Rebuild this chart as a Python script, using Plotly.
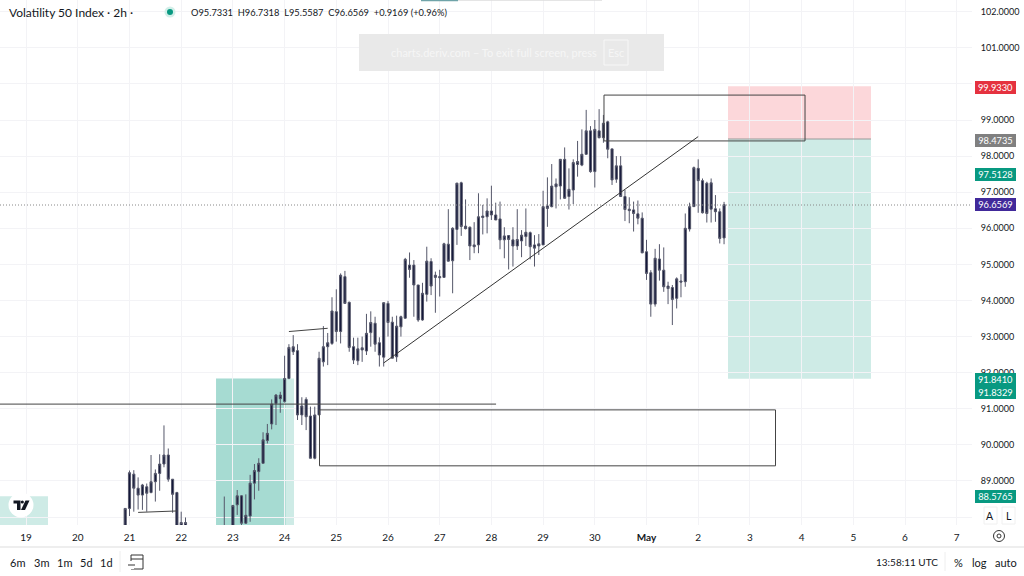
import pandas as pd
import plotly.graph_objects as go

N = None
open_ = [87.3,
 88.24,89.19,88.80,88.61,88.84,88.68,88.98,89.21,89.47,89.72,89.05,88.68,
 87.6,87.76,N,N,N,N,N,N,N,N,87.2,N,
 87.6,88.34,88.59,87.83,88.03,88.94,89.26,89.49,90.12,90.58,91.15,91.28,
 91.20,91.84,92.58,92.61,90.83,91.26,90.80,89.63,90.83,92.30,92.72,92.81,
 93.69,93.14,94.66,93.95,92.72,92.33,92.63,92.60,93.11,93.37,92.83,92.43,
 93.92,93.40,92.44,93.27,93.51,94.98,94.98,94.43,93.46,94.17,95.08,94.70,
 94.63,94.64,95.56,95.10,95.97,97.26,96.06,96.03,95.54,95.54,96.34,96.32,
 96.48,96.37,96.26,95.68,95.80,95.68,95.51,95.65,95.77,95.88,95.54,95.51,
 95.54,96.62,96.60,97.15,97.17,97.91,96.88,97.06,97.77,97.75,98.05,98.70,
 97.57,98.70,98.51,98.95,98.20,97.36,97.73,96.88,96.53,96.51,96.40,96.28,
 95.35,94.77,93.90,95.15,94.84,94.40,94.36,94.06,94.54,94.52,95.98,96.60,
 97.66,97.32,97.25,96.53,96.54,96.46,95.7331]
high = [88.24,
 89.29,89.30,89.10,88.92,88.93,89.72,89.32,89.74,90.54,89.90,89.05,88.70,
 88.15,87.99,N,N,N,N,N,N,N,N,88.57,N,
 88.34,88.75,88.61,88.63,89.17,89.47,89.63,90.35,90.58,91.26,91.41,91.47,
 92.47,92.79,93.04,92.79,91.32,91.32,91.06,91.06,92.58,93.29,93.10,94.09,
 94.31,94.75,94.82,93.97,92.97,92.97,93.00,93.63,93.70,93.55,92.98,93.95,
 93.99,93.55,93.58,93.58,95.18,95.33,95.12,94.43,94.49,95.49,95.17,94.80,
 94.85,95.60,96.53,96.03,97.26,97.29,96.80,96.05,96.17,96.97,96.65,96.83,
 97.18,96.71,96.74,96.03,95.80,96.03,96.53,95.95,96.55,95.91,95.81,95.84,
 97.04,97.41,97.78,97.38,97.92,98.24,97.66,97.91,98.42,98.74,99.28,98.83,
 99.00,99.30,99.14,98.98,98.21,98.00,98.00,97.06,96.86,96.74,96.77,96.44,
 95.68,94.84,95.43,95.56,95.47,94.52,94.43,94.64,94.73,96.41,96.71,97.71,
 97.91,97.38,97.29,97.38,96.92,96.55,96.7318]
low = [87.2,
 88.03,88.15,88.21,88.20,88.15,88.66,88.43,88.73,89.38,88.98,88.12,87.5,
 87.5,87.6,N,N,N,N,N,N,N,N,87.0,N,
 87.4,88.06,87.78,87.81,87.87,88.49,88.73,89.49,90.04,90.43,90.55,90.89,
 91.17,91.82,92.49,90.69,90.55,90.41,89.63,89.60,90.83,92.17,92.21,92.77,
 92.86,92.81,93.92,92.58,92.24,92.21,92.30,92.49,92.72,92.58,92.17,92.17,
 93.00,92.40,92.30,93.00,93.49,94.63,93.55,93.41,93.44,93.97,94.15,93.66,
 94.11,94.64,95.08,94.20,95.54,95.79,95.97,95.12,95.31,95.31,95.83,95.86,
 96.23,96.23,95.42,95.17,94.86,94.94,95.40,95.20,95.51,95.14,94.94,95.26,
 95.54,96.04,96.58,96.55,96.80,96.82,96.52,96.67,97.43,97.72,98.03,97.54,
 97.13,98.49,98.37,97.94,97.20,97.26,96.88,96.20,96.14,95.91,96.11,95.31,
 94.57,93.55,93.83,94.55,94.24,93.90,93.32,93.78,94.09,94.38,95.91,96.60,
 96.43,96.41,96.16,96.16,96.18,95.58,95.5587]
close = [88.24,
 89.23,88.80,88.61,88.89,88.66,88.98,89.21,89.47,89.72,89.05,88.63,87.6,
 87.85,87.85,N,N,N,N,N,N,N,N,87.7,N,
 88.32,88.59,87.83,88.05,88.94,89.29,89.49,90.14,90.32,91.13,91.38,91.38,
 91.84,92.70,92.72,90.83,91.08,90.78,89.63,90.83,92.40,92.72,92.83,93.71,
 93.14,94.70,93.92,92.70,92.35,92.66,92.69,93.09,93.39,92.79,92.49,93.94,
 93.39,92.40,93.29,93.55,95.14,94.86,94.43,93.46,94.20,95.09,94.40,94.64,
 94.66,95.57,95.09,96.00,97.25,96.05,95.99,95.51,95.49,96.32,96.30,96.48,
 96.37,96.23,95.68,95.79,95.69,95.51,95.69,95.81,95.89,95.49,95.45,95.57,
 96.60,96.55,97.17,97.23,97.91,96.83,97.08,97.82,97.85,98.05,98.70,97.57,
 98.74,98.51,98.91,98.19,97.34,97.73,96.88,96.52,96.49,96.41,96.28,95.32,
 94.75,93.90,95.17,94.84,94.38,94.33,94.03,94.60,94.51,96.00,96.60,97.68,
 97.32,96.43,96.41,97.26,96.46,95.72,96.6569]
times = pd.date_range("2024-04-20 22:00", periods=len(close), freq="2h")

tick_dates = ["2024-04-19","2024-04-20","2024-04-21","2024-04-22","2024-04-23","2024-04-24",
              "2024-04-25","2024-04-26","2024-04-27","2024-04-28","2024-04-29","2024-04-30",
              "2024-05-01","2024-05-02","2024-05-03","2024-05-04","2024-05-05","2024-05-06","2024-05-07"]
tick_labels = ["19","20","21","22","23","24","25","26","27","28","29","30","<b>May</b>","2","3","4","5","6","7"]

price_ticks = [88,89,90,91,92,93,94,95,96,97,98,99,100,101,102]
price_labels = ["","89.0000","90.0000","91.0000","92.0000","93.0000","94.0000","95.0000","96.0000",
                "97.0000","98.0000","99.0000","","101.0000","102.0000"]

x_range = ["2024-04-18 11:53", "2024-05-07 07:06"]
y_range = [87.781, 102.324]
last_price = 96.6569

FONT = "Lato"
INK = "#131722"
W, H, PW, PH = 1024, 576, 972, 525

def px(x, y):
    return x / PW, 1 - y / PH

def paper_rect(x0, y0, x1, y1, **kw):
    a, b = px(x0, y0); c, d = px(x1, y1)
    return dict(type="rect", xref="paper", yref="paper", x0=a, y0=b, x1=c, y1=d, **kw)

def paper_line(x0, y0, x1, y1, color, width=1):
    a, b = px(x0, y0); c, d = px(x1, y1)
    return dict(type="line", xref="paper", yref="paper", x0=a, y0=b, x1=c, y1=d, line=dict(color=color, width=width))

def paper_circle(cx, cy, r, **kw):
    return paper_rect(cx - r, cy - r, cx + r, cy + r, **kw) | {"type": "circle"}

def paper_poly(points, color):
    parts = []
    for i, (x, y) in enumerate(points):
        a, b = px(x, y)
        parts.append(("M" if i == 0 else "L") + f"{a:.5f},{b:.5f}")
    return dict(type="path", xref="paper", yref="paper", path=" ".join(parts) + " Z",
                fillcolor=color, line=dict(width=0))

def label(x, y, text, size=11, color=INK, anchor="left", **kw):
    a, b = px(x, y)
    return dict(xref="paper", yref="paper", x=a, y=b, text=text, showarrow=False, xanchor=anchor,
                yanchor="middle", font=dict(family=FONT, size=size, color=color), **kw)

def tag(y, text, color, h=13):
    return label(975, y, text, size=9.3, color="white", bgcolor=color, width=41, height=h,
                 borderpad=0, borderwidth=0, align="center")

TEAL = "rgba(8,153,129,0.2)"
RED = "rgba(242,54,69,0.2)"
DARK = "#444444"

def data_rect(x0, x1, y0, y1, fill, line=None, layer="below"):
    return dict(type="rect", xref="x", yref="y", x0=x0, x1=x1, y0=y0, y1=y1, fillcolor=fill,
                line=dict(color=line or "rgba(0,0,0,0)", width=1), layer=layer)

def data_line(x0, x1, y0, y1, color=DARK, width=1, dash="solid"):
    return dict(type="line", xref="x", yref="y", x0=x0, x1=x1, y0=y0, y1=y1,
                line=dict(color=color, width=width, dash=dash), layer="above")

shapes = [
    data_rect(x_range[0], "2024-04-19 10:10", 87.0, 88.5765, TEAL),
    data_rect("2024-04-22 16:10", "2024-04-24 04:22", 87.0, 91.84, TEAL),
    data_rect("2024-04-22 16:10", "2024-04-24 00:30", 87.0, 91.84, TEAL),
    data_rect("2024-05-02 13:50", "2024-05-05 08:12", 98.4735, 99.933, RED),
    data_rect("2024-05-02 13:50", "2024-05-05 08:12", 91.8329, 98.4735, TEAL),
    data_line("2024-05-02 13:50", "2024-05-05 08:12", 98.4735, 98.4735, color="#999999", width=1),
    data_rect("2024-04-30 04:16", "2024-05-04 01:35", 98.42, 99.69, "rgba(0,0,0,0)", line=DARK, layer="above"),
    data_rect("2024-04-24 16:12", "2024-05-03 11:53", 89.42, 90.97, "rgba(0,0,0,0)", line=DARK, layer="above"),
    data_line(x_range[0], "2024-04-28 02:10", 91.13, 91.13),
    data_line("2024-04-25 22:00", "2024-05-02 00:00", 92.27, 98.54, color="#333333"),
    data_line("2024-04-24 02:00", "2024-04-24 20:00", 93.14, 93.23),
    data_line("2024-04-21 04:00", "2024-04-21 22:00", 88.13, 88.17),
    data_line(x_range[0], x_range[1], last_price - 0.012, last_price - 0.012, color="#888888", dash="1px,2px"),
    # fullscreen banner
    paper_rect(359, 34, 664, 71, fillcolor="#e9e9e9", line=dict(width=0)),
    paper_rect(604, 40, 628, 65, fillcolor="rgba(0,0,0,0)", line=dict(color="#f7f7f7", width=1)),
    # top strip
    paper_rect(421, 0, 458, 1.2, fillcolor="#6fa3a8", line=dict(width=0)),
    paper_rect(458, 0, 602, 0.8, fillcolor="#dddddd", line=dict(width=0)),
    # legend dot
    paper_circle(170, 12, 5.5, fillcolor="#d3efe9", line=dict(width=0)),
    paper_circle(170, 12, 3, fillcolor="#089981", line=dict(width=0)),
    # logo
    paper_circle(21, 505, 12.5, fillcolor="white", line=dict(width=0)),
    paper_poly([(13.5, 500.5), (20.5, 500.5), (20.5, 510), (17, 510), (17, 503.5), (13.5, 503.5)], "#131722"),
    paper_circle(22.3, 502, 1.6, fillcolor="#131722", line=dict(width=0)),
    paper_poly([(25.5, 500.5), (29.5, 500.5), (25, 510), (21, 510)], "#131722"),
    # bottom chrome
    paper_line(0, 547, 1024, 547, "#eeeeee", 2),
    paper_line(120, 551, 120, 572, "#eeeeee", 1),
    paper_line(945, 552, 945, 571, "#eeeeee", 1),
    # A / L boxes
    paper_rect(984, 507, 997, 524, fillcolor="white", line=dict(color="#f0f0f0", width=1)),
    paper_rect(1002, 507, 1015, 524, fillcolor="white", line=dict(color="#f0f0f0", width=1)),
    # gear
    paper_circle(999, 536, 2, fillcolor="rgba(0,0,0,0)", line=dict(color="#333333", width=1)),
    paper_circle(999, 536, 5.5, fillcolor="rgba(0,0,0,0)", line=dict(color="#333333", width=1)),
    # calendar
    paper_rect(131, 555, 143, 569, fillcolor="rgba(0,0,0,0)", line=dict(color="#333333", width=1)),
    paper_line(131, 559, 143, 559, "#333333", 1),
    paper_rect(128, 561, 134, 569, fillcolor="white", line=dict(width=0)),
    paper_line(128, 565, 135, 565, "#333333", 1),
]

annotations = [
    label(7, 12, "Volatility 50 Index · 2h ·", size=12),
    label(189, 12, "O95.7331&nbsp;&nbsp;H96.7318&nbsp;&nbsp;L95.5587&nbsp;&nbsp;C96.6569&nbsp;&nbsp;+0.9169&nbsp;(+0.96%)", size=9.3),
    label(389, 52, "charts.deriv.com – To exit full screen, press", size=11, color="#f6f6f6"),
    label(616, 52, "Esc", size=11, color="#f6f6f6", anchor="center"),
    tag(87.5, "99.9330", "#e5323f"),
    tag(140.5, "98.4735", "#808080"),
    tag(174.5, "97.5128", "#089981"),
    tag(205, "96.6569", "#41299a"),
    tag(379, "91.8410", "#089981"),
    tag(392, "91.8329", "#089981"),
    tag(496.5, "88.5765", "#089981"),
    label(990.5, 515.5, "A", size=10.5, anchor="center"),
    label(1008.5, 515.5, "L", size=10.5, anchor="center"),
    label(17.3, 562, "6m", size=11, anchor="center"),
    label(41, 562, "3m", size=11, anchor="center"),
    label(64, 562, "1m", size=11, anchor="center"),
    label(86, 562, "5d", size=11, anchor="center"),
    label(106, 562, "1d", size=11, anchor="center"),
    label(874, 562, "13:58:11 UTC", size=10),
    label(958, 562, "%", size=11, anchor="center"),
    label(979, 562, "log", size=11, anchor="center"),
    label(1006, 562, "auto", size=11, anchor="center"),
]

fig = go.Figure(go.Candlestick(
    x=times, open=open_, high=high, low=low, close=close, whiskerwidth=0,
    increasing=dict(line=dict(color="#55576a", width=1), fillcolor="#14183a"),
    decreasing=dict(line=dict(color="#55576a", width=1), fillcolor="#14183a"),
    hoverinfo="skip",
))

fig.update_layout(
    width=W, height=H, margin=dict(l=0, r=W - PW, t=0, b=H - PH), autosize=False,
    paper_bgcolor="white", plot_bgcolor="white", showlegend=False,
    font=dict(family=FONT, size=10, color=INK),
    shapes=shapes, annotations=annotations,
    xaxis=dict(type="date", range=x_range, rangeslider=dict(visible=False), tickmode="array",
               tickvals=tick_dates, ticktext=tick_labels, showgrid=True, gridcolor="#f3f3f6", gridwidth=1,
               zeroline=False, showline=False, ticks="outside", ticklen=3, tickcolor="rgba(0,0,0,0)",
               tickangle=0, tickfont=dict(family=FONT, size=10, color=INK)),
    yaxis=dict(range=y_range, side="right", tickmode="array", tickvals=price_ticks, ticktext=price_labels,
               showgrid=True, gridcolor="#f3f3f6", gridwidth=1, zeroline=False, showline=False,
               ticks="outside", ticklen=6, tickcolor="rgba(0,0,0,0)",
               tickfont=dict(family=FONT, size=9, color=INK)),
)

fig.write_html("out.html", config={"displayModeBar": False},
               post_script="document.body.style.margin='0';")
